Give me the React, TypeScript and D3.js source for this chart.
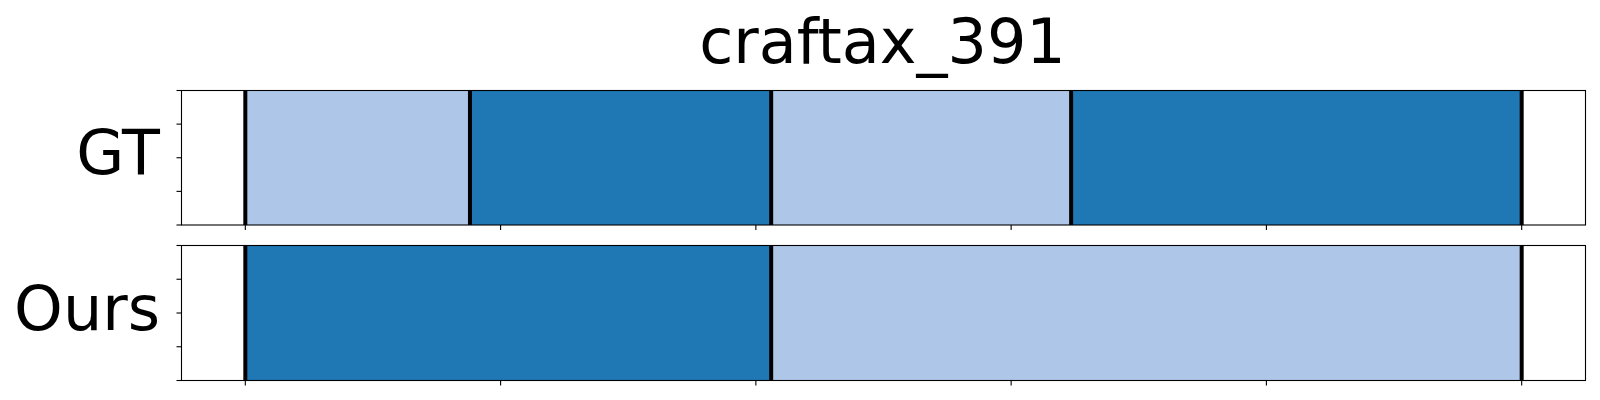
import React, { useRef, useEffect } from "react";
import * as d3 from "d3";

// segment boundaries (percent of episode) and class index per segment
const title = "craftax_391";
const rowNames = ["GT", "Ours"];
const gtBounds = [0, 17.6, 41.2, 64.7, 100];
const gtClasses = [1, 0, 1, 0];
const oursBounds = [0, 41.2, 100];
const oursClasses = [0, 1];
const xTicks = [0, 20, 40, 60, 80, 100];
const yTicks = [0, 0.25, 0.5, 0.75, 1];
const palette = ["#1f77b4", "#aec7e8"];

const W = 1600;
const H = 400;

const App = () => {
  const ref = useRef<SVGSVGElement>(null);

  useEffect(() => {
    const svg = d3.select(ref.current);
    svg.selectAll("*").remove();

    const left = 181.5;
    const right = 1585.5;
    const panels = [
      { top: 90.5, bottom: 225, bounds: gtBounds, classes: gtClasses, name: rowNames[0], base: 174 },
      { top: 245.5, bottom: 380.5, bounds: oursBounds, classes: oursClasses, name: rowNames[1], base: 330 },
    ];

    // matplotlib-style 5% margins around 0..100
    const x = d3.scaleLinear().domain([-5, 105]).range([left, right]);

    svg
      .append("text")
      .attr("x", (left + right) / 2 - 1)
      .attr("y", 63)
      .attr("text-anchor", "middle")
      .attr("font-family", "DejaVu Sans")
      .attr("font-size", 62)
      .text(title);

    panels.forEach((p) => {
      const y = d3.scaleLinear().domain([0, 1]).range([p.bottom, p.top]);
      const g = svg.append("g");

      const segs = p.classes.map((c, i) => ({ x0: p.bounds[i], x1: p.bounds[i + 1], c }));
      g.selectAll("rect.seg")
        .data(segs)
        .enter()
        .append("rect")
        .attr("class", "seg")
        .attr("x", (d) => x(d.x0))
        .attr("width", (d) => x(d.x1) - x(d.x0))
        .attr("y", y(1))
        .attr("height", y(0) - y(1))
        .attr("fill", (d) => palette[d.c]);

      g.selectAll("line.bound")
        .data(p.bounds)
        .enter()
        .append("line")
        .attr("class", "bound")
        .attr("x1", (d) => x(d))
        .attr("x2", (d) => x(d))
        .attr("y1", y(0))
        .attr("y2", y(1))
        .attr("stroke", "black")
        .attr("stroke-width", 4);

      // frame
      g.append("rect")
        .attr("x", left)
        .attr("y", p.top)
        .attr("width", right - left)
        .attr("height", p.bottom - p.top)
        .attr("fill", "none")
        .attr("stroke", "black")
        .attr("stroke-width", 1.1);

      g.selectAll("line.yt")
        .data(yTicks)
        .enter()
        .append("line")
        .attr("class", "yt")
        .attr("x1", left - 5)
        .attr("x2", left)
        .attr("y1", (d) => y(d))
        .attr("y2", (d) => y(d))
        .attr("stroke", "black")
        .attr("stroke-width", 1.1);

      g.selectAll("line.xt")
        .data(xTicks)
        .enter()
        .append("line")
        .attr("class", "xt")
        .attr("x1", (d) => x(d))
        .attr("x2", (d) => x(d))
        .attr("y1", p.bottom)
        .attr("y2", p.bottom + 5)
        .attr("stroke", "black")
        .attr("stroke-width", 1.1);

      g.append("text")
        .attr("x", 160)
        .attr("y", p.base)
        .attr("text-anchor", "end")
        .attr("font-family", "DejaVu Sans")
        .attr("font-size", 62)
        .text(p.name);
    });
  }, []);

  return (
    <svg
      ref={ref}
      width={W}
      height={H}
      style={{ position: "absolute", left: 0, top: 0, background: "white" }}
    ></svg>
  );
};

export default App;
